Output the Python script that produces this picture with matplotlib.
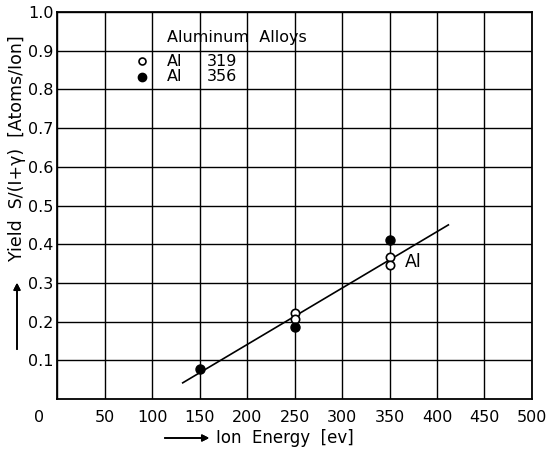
import matplotlib
matplotlib.use("Agg")
import matplotlib.pyplot as plt
import matplotlib.transforms as mtransforms

# data
al319_energy = [250, 250, 350, 350]
al319_yield = [0.222, 0.206, 0.366, 0.346]
al356_energy = [150, 250, 350]
al356_yield = [0.078, 0.187, 0.410]
fit_energy = [132, 412]
fit_yield = [0.042, 0.450]

x_ticks = [0, 50, 100, 150, 200, 250, 300, 350, 400, 450, 500]
y_ticks = [0.1, 0.2, 0.3, 0.4, 0.5, 0.6, 0.7, 0.8, 0.9, 1.0]
y_tick_labels = ["0.1", "0.2", "0.3", "0.4", "0.5", "0.6", "0.7", "0.8", "0.9", "1.0"]

plt.rcParams["font.family"] = ["DejaVu Sans"]

fig = plt.figure(figsize=(5.5, 4.53), dpi=100)
ax = fig.add_axes([0.1045, 0.119, 0.8625, 0.8545])

ax.set_xlim(0, 500)
ax.set_ylim(0, 1.0)
ax.set_xticks(x_ticks)
ax.set_xticklabels([str(v) for v in x_ticks])
ax.set_yticks(y_ticks)
ax.set_yticklabels(y_tick_labels)
ax.tick_params(length=0, labelsize=11.5, colors="black")
ax.tick_params(axis="x", pad=8)
ax.tick_params(axis="y", pad=3)
ax.grid(True, color="black", linewidth=1.0)
for s in ax.spines.values():
    s.set_linewidth(1.3)

# the "0" label sits left of the frame in the original
lbl0 = ax.get_xticklabels()[0]
lbl0.set_transform(lbl0.get_transform() + mtransforms.ScaledTranslation(-0.18, 0, fig.dpi_scale_trans))

ax.plot(fit_energy, fit_yield, color="black", linewidth=1.2, zorder=3)
ax.plot(al319_energy, al319_yield, "o", mfc="white", mec="black", mew=1.2, ms=6, zorder=4)
ax.plot(al356_energy, al356_yield, "o", mfc="black", mec="black", ms=6.5, zorder=5)

ax.text(366, 0.355, "Al", fontsize=12.5, va="center", ha="left")

# legend block written inside the grid
ax.text(115, 0.934, "Aluminum  Alloys", fontsize=11.5, va="center")
ax.plot([88.7], [0.873], "o", mfc="white", mec="black", mew=1.2, ms=5, clip_on=False)
ax.plot([88.7], [0.833], "o", mfc="black", mec="black", ms=6, clip_on=False)
ax.text(115, 0.873, "Al", fontsize=11.5, va="center")
ax.text(115, 0.833, "Al", fontsize=11.5, va="center")
ax.text(157, 0.873, "319", fontsize=11.5, va="center")
ax.text(157, 0.833, "356", fontsize=11.5, va="center")

# axis titles with arrows
fig.text(216 / 550, 1 - 438 / 453, "Ion  Energy  [ev]", fontsize=12,
         ha="left", va="center")
fig.text(17 / 550, 1 - 148 / 453, "Yield  S/(I+γ)  [Atoms/Ion]", fontsize=12.5,
         rotation=90, ha="center", va="center")
fig.add_artist(plt.annotate("", xy=(212 / 550, 1 - 438 / 453), xytext=(162 / 550, 1 - 438 / 453),
                            xycoords="figure fraction",
                            arrowprops=dict(arrowstyle="-|>", color="black", lw=1.2,
                                            mutation_scale=10)))
fig.add_artist(plt.annotate("", xy=(17 / 550, 1 - 280 / 453), xytext=(17 / 550, 1 - 352 / 453),
                            xycoords="figure fraction",
                            arrowprops=dict(arrowstyle="-|>", color="black", lw=1.2,
                                            mutation_scale=10)))

fig.savefig("out.png", dpi=100)
